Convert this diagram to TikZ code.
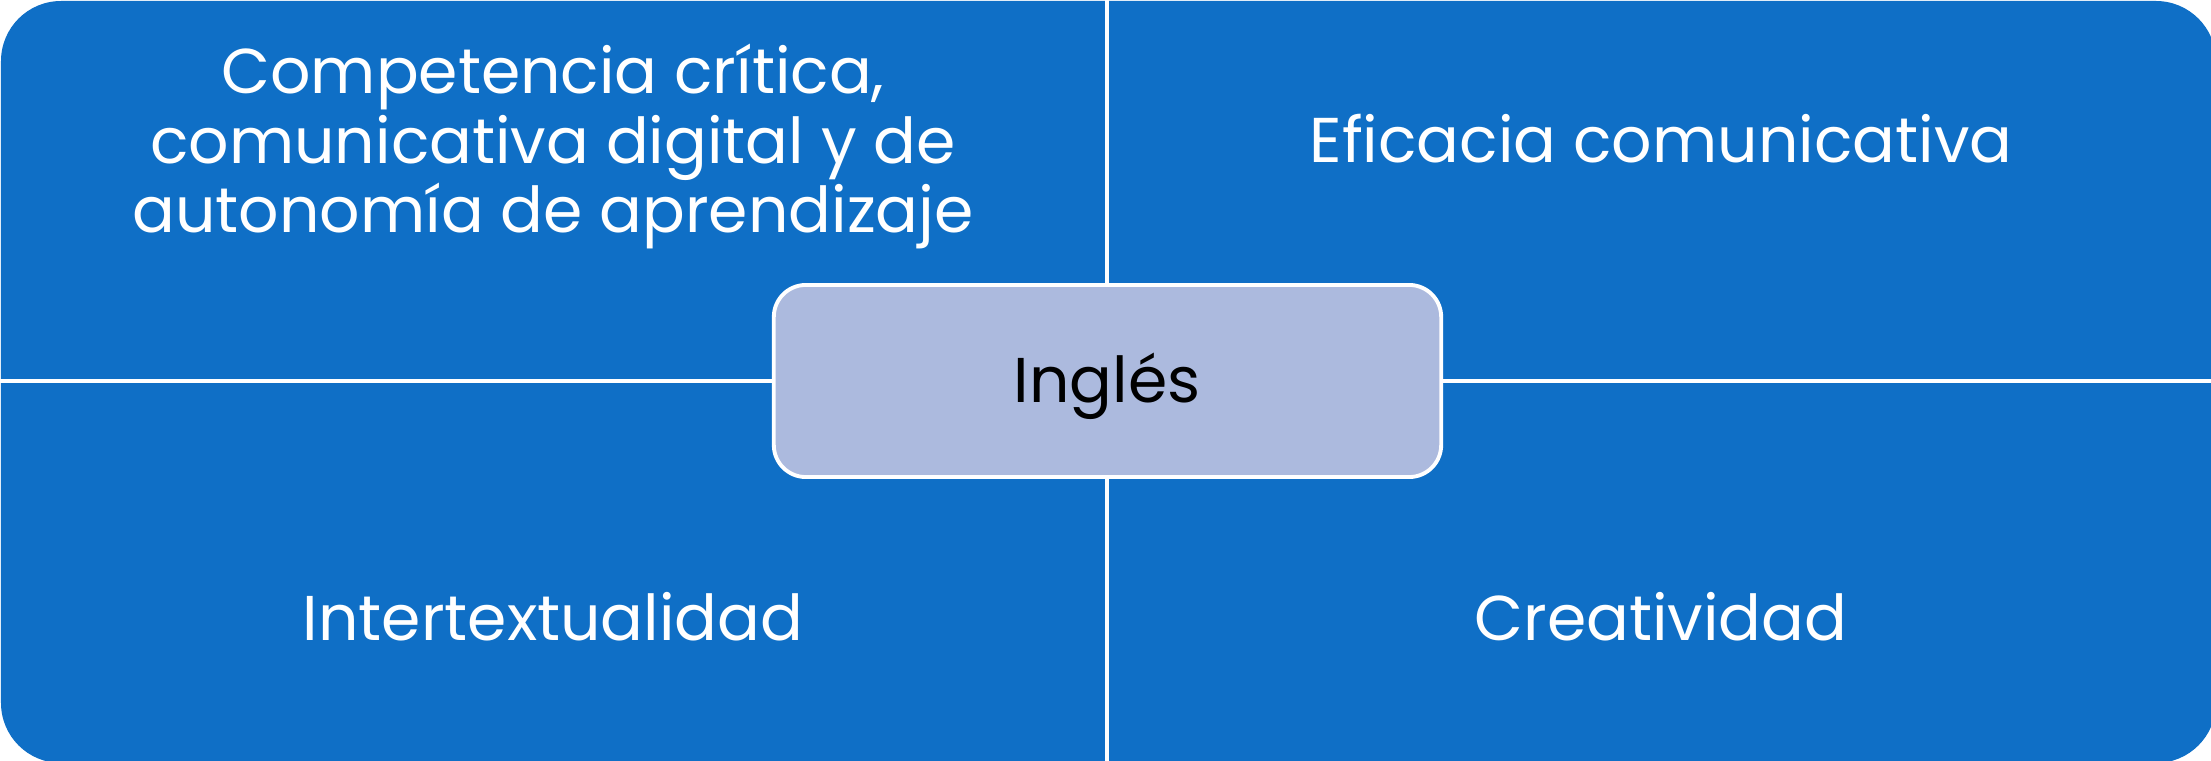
\documentclass[tikz,border=0pt]{standalone}
\usepackage{fontspec}
\setmainfont{Poppins}
\usetikzlibrary{calc}
\definecolor{matrixblue}{HTML}{0F6FC6}
\definecolor{centerfill}{HTML}{ACBADE}
\tikzset{
  quadtext/.style={text=white, align=center, anchor=base, inner sep=0pt,
    font=\fontsize{18pt}{19.9pt}\selectfont},
  divider/.style={draw=white, line width=0.9pt},
  centerbox/.style={draw=white, line width=1.1pt, fill=centerfill, rounded corners=0.32cm,
    minimum width=6.67cm, minimum height=1.92cm, inner sep=0pt}
}
\begin{document}
\begin{tikzpicture}[x=0.01cm, y=-0.01cm]
        \useasboundingbox (0,0) rectangle (2211,761);
        \clip (0,0) rectangle (2211,761);
        \fill [matrixblue, rounded corners=0.6cm] (1,1) rectangle (2216,763);
        \coordinate (N) at (1107,-5);
        \coordinate (S) at (1107,770);
        \coordinate (W) at (-5,381);
        \coordinate (E) at (2220,381);
        \draw [divider] (N) -- (S);
        \draw [divider] (W) -- (E);
        \node (centro) at (1107.5,381) [centerbox] {};
        \node (ingles) at (1107,403) [quadtext, text=black] {Inglés};
        \node (critica) at (553,233) [quadtext] {Competencia crítica,\\comunicativa digital y de\\autonomía de aprendizaje};
        \node (eficacia) at (1661,163) [quadtext] {Eficacia comunicativa};
        \node (intertext) at (553,641) [quadtext] {Intertextualidad};
        \node (creatividad) at (1661,641) [quadtext] {Creatividad};
    \end{tikzpicture}
\end{document}
